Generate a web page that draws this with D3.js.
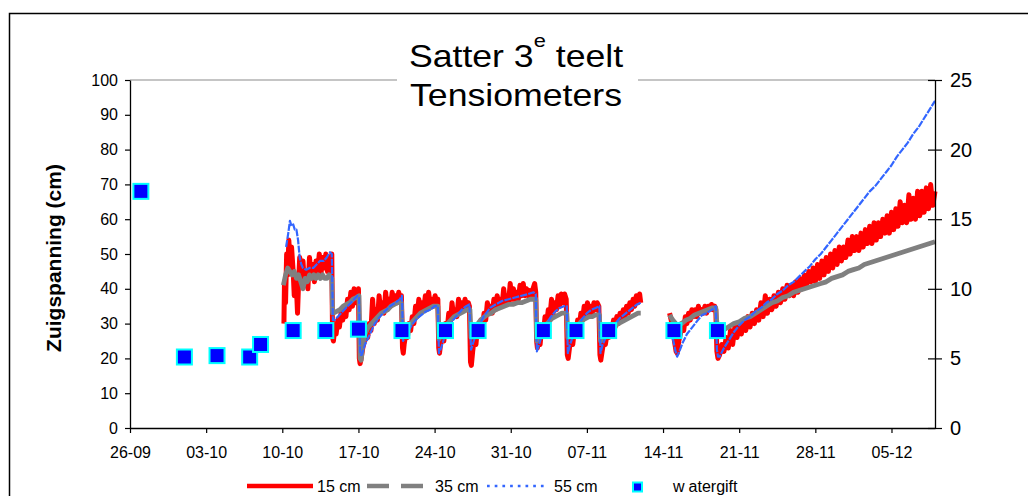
<!DOCTYPE html>
<html>
<head>
<meta charset="utf-8">
<script src="https://cdn.jsdelivr.net/npm/d3@7"></script>
<style>
  html, body { margin: 0; padding: 0; background: #fff; }
  svg { display: block; font-family: "Liberation Sans", Arial, sans-serif; }
</style>
</head>
<body>
<svg id="chart" width="1028" height="496"></svg>
<script>
// Tensiometer readings: [days since 26-09, suction in cm]; null marks a gap in logging
const tension15 = [
  [14.15,30],[14.2,42],[14.3,36],[14.4,50],[14.5,44],[14.6,54],[14.75,46],[14.85,52],[15.0,45],[15.1,38],
  [15.25,44],[15.4,33],[15.5,42],[15.6,49],[15.75,44],[15.9,48],[16.05,41],[16.2,45],[16.35,40],[16.5,49],
  [16.65,44],[16.8,47],[16.95,42],[17.1,48],[17.25,45],[17.4,50],[17.55,44],[17.7,49],[17.85,46],[18.0,50],
  [18.15,45],[18.3,49],[18.45,47],[18.55,50],[18.62,26],[18.7,25],
  [18.8,28],[18.95,27],[19.1,31],[19.25,29],[19.4,33],[19.55,31],[19.7,35],[19.85,32],[20.0,37],[20.15,34],
  [20.3,39],[20.45,35],[20.6,40],[20.75,36],[20.9,38],[21.0,40],[21.08,20],[21.15,18.5],
  [21.25,20],[21.4,23],[21.55,25],[21.7,28],[21.85,26],[22.0,30],[22.15,28],[22.3,37],[22.45,30],[22.6,34],
  [22.75,31],[22.9,38],[23.05,33],[23.2,36],[23.35,33],[23.5,39],[23.65,34],[23.8,37],[23.95,35],[24.1,39],
  [24.25,36],[24.4,38],[24.55,36],[24.7,39],[24.85,37],[24.95,38],[25.05,23],[25.12,21.5],
  [25.2,24],[25.35,27],[25.5,26],[25.65,30],[25.8,28],[25.95,32],[26.1,30],[26.25,35],[26.4,32],[26.55,37],
  [26.7,33],[26.85,36],[27.0,34],[27.15,38],[27.3,35],[27.45,39],[27.6,35],[27.75,37],[27.9,35],[28.05,38],
  [28.2,36],[28.3,37],[28.38,23],[28.45,21.5],
  [28.55,24],[28.7,27],[28.85,25],[29.0,30],[29.15,28],[29.3,33],[29.45,30],[29.6,36],[29.75,32],[29.9,34],
  [30.05,32],[30.2,37],[30.35,34],[30.5,36],[30.65,34],[30.8,37],[30.95,35],[31.1,36],[31.2,35],[31.3,19],[31.38,18],
  [31.5,22],[31.65,26],[31.8,24],[31.95,29],[32.1,27],[32.25,31],[32.4,29],[32.55,33],[32.7,31],[32.85,36],
  [33.0,33],[33.15,35],[33.3,33],[33.45,37],[33.6,34],[33.75,38],[33.9,35],[34.05,37],[34.2,35],[34.35,40],
  [34.5,36],[34.65,38],[34.8,36],[34.95,41.5],[35.1,37],[35.25,40],[35.4,37],[35.55,39],[35.7,37],[35.85,41],
  [36.0,38],[36.15,41.5],[36.3,38],[36.45,40],[36.6,38],[36.75,39.5],[36.9,38],[37.05,40],[37.2,41.5],[37.3,39],
  [37.38,25],[37.45,23],
  [37.55,26],[37.7,24],[37.85,29],[38.0,27],[38.15,32],[38.3,30],[38.45,34],[38.6,32],[38.75,37],[38.9,33],
  [39.05,36],[39.2,34],[39.35,38],[39.5,35],[39.65,38.5],[39.8,36],[39.95,38.5],[40.1,37],[40.2,21],[40.28,20],
  [40.4,23],[40.55,26],[40.7,24],[40.85,28],[41.0,27],[41.15,31],[41.3,29],[41.45,33],[41.6,31],[41.75,35],
  [41.9,32],[42.05,36],[42.2,33],[42.35,35],[42.5,33],[42.65,36],[42.8,34],[42.95,36],[43.1,35],[43.2,21],[43.28,19.5],
  [43.4,22],[43.55,25],[43.7,24],[43.85,27],[44.0,26],[44.15,29],[44.3,28],[44.45,31],[44.6,29],[44.75,32],
  [44.9,30],[45.05,33],[45.2,31],[45.35,34],[45.5,32],[45.65,35],[45.8,33],[45.95,36],[46.1,34],[46.25,37],
  [46.4,35],[46.55,38],[46.7,36],[46.85,38.5],[46.95,36],
  [48.0,null],
  [49.6,33],[49.75,31],[49.9,28],[50.05,25],[50.2,22],[50.3,21.5],[50.45,25],[50.6,27],[50.75,30],[50.9,28],
  [51.05,32],[51.2,30],[51.35,33],[51.5,31],[51.65,34],[51.8,32],[51.95,34],[52.1,32],[52.25,35],[52.4,33],
  [52.55,34],[52.7,33],[52.85,35],[53.0,33],[53.15,35],[53.3,34],[53.45,35.5],[53.6,34],[53.75,35],[53.85,34],
  [53.95,22],[54.05,20],
  [54.2,21],[54.4,24],[54.6,22],[54.8,26],[55.0,23],[55.2,28],[55.4,24],[55.6,29],[55.8,26],[56.0,30],
  [56.2,27],[56.4,31],[56.6,28],[56.8,32],[57.0,29],[57.2,33],[57.4,30],[57.6,34],[57.8,31],[58.0,36],
  [58.2,32],[58.4,38],[58.6,33],[58.8,37],[59.0,34],[59.2,38],[59.4,35],[59.6,39],[59.8,36],[60.0,40],
  [60.2,37],[60.4,41],[60.6,38],[60.8,41],[61.0,38],[61.2,42],[61.4,39],[61.6,43],[61.8,40],[62.0,44],
  [62.2,41],[62.4,45],[62.6,42],[62.8,46],[63.0,42],[63.2,47],[63.4,43],[63.6,48],[63.8,44],[64.0,49],
  [64.2,45],[64.4,50],[64.6,46],[64.8,51],[65.0,47],[65.2,52],[65.4,48],[65.6,52],[65.8,49],[66.0,54],
  [66.2,50],[66.4,55],[66.6,51],[66.8,55],[67.0,51],[67.2,56],[67.4,52],[67.6,57],[67.8,53],[68.0,58],
  [68.2,53],[68.4,59],[68.6,54],[68.8,59],[69.0,55],[69.2,60],[69.4,56],[69.6,61],[69.8,56],[70.0,62],
  [70.2,57],[70.4,63],[70.6,58],[70.8,65],[71.0,59],[71.2,64],[71.4,59],[71.6,67],[71.8,60],[72.0,66],
  [72.2,60],[72.4,68],[72.6,61],[72.8,68],[73.0,62],[73.2,69],[73.4,63],[73.6,70],[73.8,64],[74.0,68]
];

const tension35 = [
  [14.1,41],[14.3,44],[14.5,46],[14.7,45],[14.9,44],[15.1,45],[15.3,43],[15.5,44],[15.7,42],[15.9,40],
  [16.1,43],[16.3,42],[16.5,44],[16.7,43],[16.9,44],[17.1,43],[17.3,44],[17.5,43],[17.7,44],[17.9,43],
  [18.1,43],[18.3,44],[18.55,43],[18.62,33],
  [18.7,33],[19.0,33.5],[19.3,34],[19.6,35],[19.9,35.5],[20.2,36],[20.5,37],[20.8,37.5],[21.05,38],[21.15,20],[21.25,19.5],
  [21.4,24],[21.6,27],[21.9,29],[22.2,30],[22.5,31],[22.8,32],[23.1,33],[23.4,33.5],[23.7,34],[24.0,35],
  [24.3,35.5],[24.6,36],[24.95,36],[25.05,27],
  [25.2,27.5],[25.5,29],[25.8,30],[26.1,31],[26.4,32],[26.7,33],[27.0,33.5],[27.3,34],[27.6,34.5],[27.9,35],
  [28.3,35],[28.4,25.5],
  [28.6,27],[28.9,29],[29.2,30],[29.5,31],[29.8,32],[30.1,32.5],[30.4,33],[30.7,33.5],[31.0,34],[31.25,34],[31.35,26],
  [31.5,27],[31.8,29],[32.1,30.5],[32.4,31.5],[32.8,32.5],[33.2,33],[33.6,34],[34.0,34.5],[34.4,35],[34.8,35.5],
  [35.2,35.5],[35.6,36],[36.0,36],[36.4,36.5],[36.8,37],[37.3,37],[37.4,25],
  [37.6,26],[37.9,28],[38.2,29.5],[38.5,30.5],[38.8,31.5],[39.1,32],[39.4,32.5],[39.7,33],[40.15,33],[40.25,26],
  [40.4,26.5],[40.7,28],[41.0,29],[41.3,30],[41.6,31],[41.9,31.5],[42.2,32],[42.5,32],[42.8,32.5],[43.15,32.5],[43.25,25],
  [43.4,26],[43.7,27],[44.0,28],[44.3,28.5],[44.6,29.5],[44.9,30],[45.2,30.5],[45.5,31],[45.8,31.5],[46.1,32],
  [46.4,32.5],[46.7,33],[46.95,33],
  [48.0,null],
  [49.6,32.5],[49.9,31],[50.3,29.5],[50.7,30],[51.1,31],[51.5,31.5],[51.9,32.5],[52.3,33],[52.7,33.5],[53.1,34],
  [53.5,34.5],[53.85,34.5],[54.0,28],
  [54.1,27],[54.5,28],[55.0,29],[55.5,30],[56.0,30.5],[56.5,31.5],[57.0,32],[57.5,33],[58.0,34],[58.5,35],
  [59.0,36],[59.5,36.5],[60.0,37.5],[60.5,38],[61.0,39],[61.5,39.5],[62.0,40],[62.5,40.5],[63.0,41],[63.5,41.5],
  [64.0,42],[64.5,43],[65.0,43.5],[65.5,44],[66.0,45],[66.5,45.5],[67.0,46],[67.5,47],[68.0,47.5],[68.5,48],
  [69.0,48.5],[69.5,49],[70.0,49.5],[70.5,50],[71.0,50.5],[71.5,51],[72.0,51.5],[72.5,52],[73.0,52.5],[73.5,53],
  [74.0,53.5]
];

const tension55 = [
  [14.35,52],[14.55,56],[14.7,59.5],[14.85,58],[15.0,58.5],[15.15,57],[15.3,57],[15.45,54],[15.6,49],[15.75,47],
  [15.9,46],[16.2,45.5],[16.5,46],[16.85,46],[17.15,47],[17.46,48],[17.8,48],[18.08,49],[18.38,50.5],[18.55,50],
  [18.65,31],
  [18.8,31],[19.1,32],[19.4,33],[19.7,34],[20.0,35],[20.3,36],[20.6,37],[20.9,38],[21.05,37.5],[21.15,22],[21.2,21],
  [21.3,21],[21.6,24],[22.06,27],[22.5,30],[22.98,32],[23.4,33.5],[23.9,35],[24.4,36],[24.8,37],[25.0,38],[25.1,25],
  [25.3,26],[25.6,28],[26.0,30],[26.4,31.5],[26.8,32.5],[27.2,33.5],[27.6,34],[28.0,35],[28.3,35],[28.4,21.5],
  [28.6,23],[28.9,26],[29.3,29],[29.7,31],[30.1,32.5],[30.5,34],[30.9,35],[31.2,35.5],[31.35,22.5],
  [31.5,24],[31.8,27],[32.1,29.5],[32.5,32],[33.1,34.5],[33.6,35.5],[34.2,36.5],[34.8,37],[35.4,37.5],[36.0,38],
  [36.6,38.5],[37.1,39],[37.3,38.5],[37.4,22],
  [37.6,24],[37.9,27],[38.3,30],[38.7,32],[39.1,33.5],[39.5,34.5],[39.9,35],[40.15,35],[40.25,21.5],
  [40.45,24],[40.8,27],[41.2,29.5],[41.6,31.5],[42.0,33],[42.4,34],[42.8,34.5],[43.15,35],[43.25,21.5],
  [43.45,24],[43.8,26.5],[44.2,28.5],[44.6,30],[45.0,31.5],[45.4,32.5],[45.8,33.5],[46.2,34.5],[46.6,35.5],[46.95,36],
  [48.0,null],
  [49.75,28],[49.95,25],[50.15,22],[50.3,20.5],[50.5,22],[50.8,24.5],[51.2,27],[51.7,29],[52.2,31],[52.6,32.5],
  [53.0,33],[53.5,34],[53.85,35],[53.95,22.5],[54.05,20.5],
  [54.2,20.5],[54.6,23],[55.0,25],[55.5,27.5],[56.0,29.5],[56.5,31],[57.0,32],[57.5,33.5],[58.0,34.5],[58.5,36],
  [59.0,37],[59.5,38.5],[60.0,39.5],[60.5,41],[61.0,42],[61.5,43.5],[62.0,45],[62.5,46.5],[63.0,48.5],[63.5,50],
  [64.0,52],[64.5,54],[65.0,56],[65.5,58],[66.0,60],[66.5,62],[67.0,64],[67.5,66],[68.0,68],[68.5,69.5],
  [69.0,71.5],[69.5,73.5],[70.0,75.5],[70.5,78],[71.0,80],[71.5,82],[72.0,84.5],[72.5,86.5],[73.0,89],[73.5,91.5],
  [74.0,94]
];

// Irrigation events: [days since 26-09, amount on the right-hand axis]
const watergift = [
  [1,17],[5,5.1],[8,5.2],[11,5.1],[12,6],[15,7],[18,7],[21,7.1],
  [25,7],[29,7],[32,7],[38,7],[41,7],[44,7],[50,7],[54,7]
];

const weekTicks = ["26-09","03-10","10-10","17-10","24-10","31-10","07-11","14-11","21-11","28-11","05-12"];
const leftTicks = [0,10,20,30,40,50,60,70,80,90,100];
const rightTicks = [0,5,10,15,20,25];
const seasonYear = 2008;
const spanDays = 74;

const seriesNames = ["15 cm", "35 cm", "55 cm", "watergift"];

const svg = d3.select("#chart");
const startMs = Date.UTC(seasonYear, 8, 26);
const toDate = d => new Date(startMs + d * 864e5);
const parseTick = d3.utcParse("%d-%m-%Y");

const x = d3.scaleUtc().domain([toDate(0), toDate(spanDays)]).range([130, 935]);
const yL = d3.scaleLinear().domain([0, 100]).range([428, 80]);
const yR = d3.scaleLinear().domain([0, 25]).range([428, 80]);

svg.append("rect").attr("width", 1028).attr("height", 496).attr("fill", "#fff");

// outer chart frame
svg.append("rect")
  .attr("x", 9.5).attr("y", 13.5).attr("width", 1040).attr("height", 520)
  .attr("fill", "none").attr("stroke", "#000").attr("stroke-width", 1.5);

// top edge of the plot area
svg.append("line")
  .attr("x1", x.range()[0]).attr("x2", x.range()[1])
  .attr("y1", yL(100)).attr("y2", yL(100))
  .attr("stroke", "#8c8c8c").attr("stroke-width", 1.2);

// series
const line = d3.line()
  .defined(d => d[1] !== null)
  .x(d => x(toDate(d[0])))
  .y(d => yL(d[1]))
  .curve(d3.curveLinear);

const plot = svg.append("g");
plot.append("path").datum(tension15)
  .attr("d", line).attr("fill", "none")
  .attr("stroke", "#ff0000").attr("stroke-width", 5).attr("stroke-linejoin", "round");
plot.append("path").datum(tension35)
  .attr("d", line).attr("fill", "none")
  .attr("stroke", "#808080").attr("stroke-width", 4.8).attr("stroke-linejoin", "round");
plot.append("path").datum(tension55)
  .attr("d", line).attr("fill", "none")
  .attr("stroke", "#3366ff").attr("stroke-width", 2.2).attr("stroke-dasharray", "7,1.2")
  .attr("stroke-linejoin", "round");

plot.selectAll("rect.gift").data(watergift).join("rect")
  .attr("class", "gift")
  .attr("x", d => x(toDate(d[0])) - 7.5).attr("y", d => yR(d[1]) - 7.5)
  .attr("width", 15).attr("height", 15)
  .attr("fill", "#0000ff").attr("stroke", "#00ffff").attr("stroke-width", 2);

// title block (white backing interrupts the top edge)
svg.append("rect")
  .attr("x", 397).attr("y", 28).attr("width", 241).attr("height", 92).attr("fill", "#fff");
const title = svg.append("g")
  .attr("transform", "translate(516,0) scale(1.15,1)");
const t1 = title.append("text")
  .attr("x", 0).attr("y", 67).attr("text-anchor", "middle")
  .attr("font-size", 31).attr("fill", "#000");
t1.append("tspan").text("Satter 3");
t1.append("tspan").attr("font-size", 19).attr("dy", -20).text("e");
t1.append("tspan").attr("dy", 20).text(" teelt");
title.append("text")
  .attr("x", 0).attr("y", 106).attr("text-anchor", "middle")
  .attr("font-size", 31).attr("fill", "#000").text("Tensiometers");

// axes
const axisStyle = g => {
  g.select(".domain").attr("stroke", "#000").attr("stroke-width", 1.3);
  g.selectAll(".tick line").attr("stroke", "#000").attr("stroke-width", 1.2);
  g.selectAll("text").attr("fill", "#000").attr("font-family", "\"Liberation Sans\", Arial, sans-serif");
};

svg.append("g")
  .attr("transform", `translate(${x.range()[0]},0)`)
  .call(d3.axisLeft(yL).tickValues(leftTicks).tickSize(5).tickSizeOuter(0).tickPadding(7))
  .call(axisStyle)
  .call(g => g.selectAll("text").attr("font-size", 16));

const tickDates = weekTicks.map(s => parseTick(`${s}-${seasonYear}`));
svg.append("g")
  .attr("transform", `translate(0,${yL(0)})`)
  .call(d3.axisBottom(x).tickValues(tickDates).tickFormat(d3.utcFormat("%d-%m"))
    .tickSize(5).tickSizeOuter(0).tickPadding(14))
  .call(axisStyle)
  .call(g => g.selectAll("text").attr("font-size", 16));

svg.append("g")
  .attr("transform", `translate(${x.range()[1]},0)`)
  .call(d3.axisRight(yR).tickValues(rightTicks).tickSize(7).tickSizeOuter(0).tickPadding(8))
  .call(axisStyle)
  .call(g => g.selectAll(".tick line").attr("x1", -7).attr("x2", 7))
  .call(g => g.selectAll("text").attr("font-size", 20));

// y-axis title
svg.append("text")
  .attr("transform", "translate(61,258) rotate(-90)")
  .attr("text-anchor", "middle")
  .attr("font-size", 21).attr("font-weight", "bold").attr("fill", "#000")
  .text("Zuigspanning (cm)");

// legend
const legend = svg.append("g").attr("font-size", 16).attr("fill", "#000");
legend.append("line").attr("x1", 247).attr("x2", 313).attr("y1", 486).attr("y2", 486)
  .attr("stroke", "#ff0000").attr("stroke-width", 4.5);
legend.append("text").attr("x", 317).attr("y", 491.5).text(seriesNames[0]);
legend.append("line").attr("x1", 367).attr("x2", 423).attr("y1", 486).attr("y2", 486)
  .attr("stroke", "#808080").attr("stroke-width", 4.5).attr("stroke-dasharray", "22,12");
legend.append("text").attr("x", 435).attr("y", 491.5).text(seriesNames[1]);
legend.append("line").attr("x1", 487).attr("x2", 547).attr("y1", 486).attr("y2", 486)
  .attr("stroke", "#3366ff").attr("stroke-width", 2.5).attr("stroke-dasharray", "2.7,5");
legend.append("text").attr("x", 554).attr("y", 491.5).text(seriesNames[2]);
legend.append("rect").attr("x", 633).attr("y", 482.5).attr("width", 9).attr("height", 9)
  .attr("fill", "#0000ff").attr("stroke", "#00ffff").attr("stroke-width", 2);
const wg = legend.append("text").attr("x", 673).attr("y", 491.5);
wg.append("tspan").text(seriesNames[3].slice(0, 1));
wg.append("tspan").attr("dx", 4).text(seriesNames[3].slice(1));
</script>
</body>
</html>
